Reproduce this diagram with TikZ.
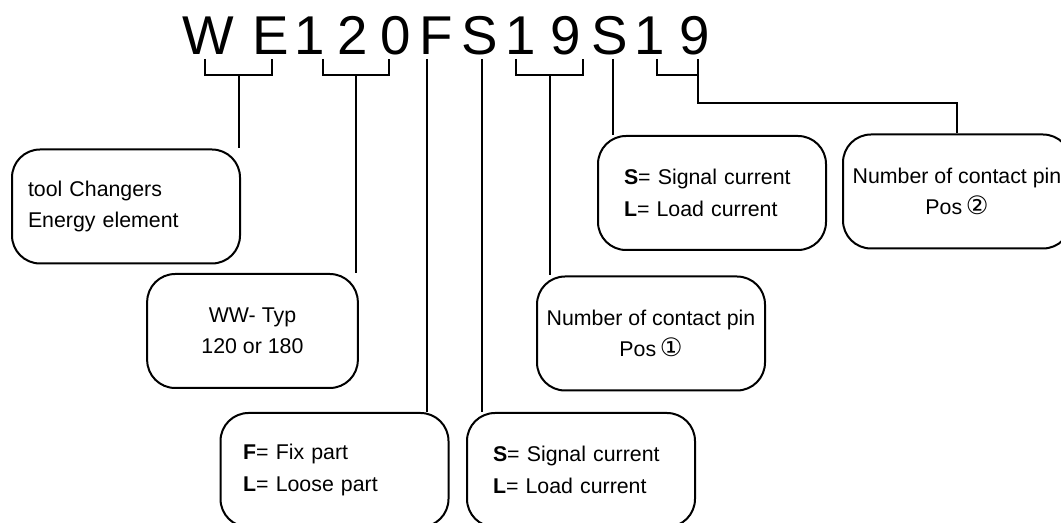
\documentclass[tikz,border=0pt]{standalone}
\usepackage{fontspec}
\setmainfont{Liberation Sans}
\newfontfamily\circfont{DejaVu Sans}
\usetikzlibrary{calc}

\begin{document}
\begin{tikzpicture}[x=0.75pt, y=-0.75pt,
  lead/.style={line width=1.5pt},
  codechar/.style={anchor=base, inner sep=0pt, font=\fontsize{41}{41}\selectfont},
  infobox/.style={draw, line width=1.5pt, rounded corners=21pt,
    minimum width=171pt, minimum height=85.5pt, inner sep=0pt,
    font=\fontsize{16}{23.5}\selectfont},
  leftbox/.style={infobox, align=left, text width=132pt},
  midbox/.style={infobox, align=center}]
  \useasboundingbox (0,0) rectangle (1061,523);
  % The type code, one node per character.
  \foreach \ch/\px [count=\i] in {W/208, E/271, 1/310, 2/353, 0/396, F/436.5,
      S/479.5, 1/521, 9/566, S/609.5, 1/650, 9/695}
    \node[codechar] (c\i) at (\px,55) {\ch};
  % Explanation boxes.
  \node[leftbox, text width=147pt] (tc) at (126,206.5) {tool Changers\\Energy element};
  \node[midbox, minimum width=158pt] (ww) at (252.5,331) {WW- Typ\\120 or 180};
  \node[leftbox, text width=137pt] (fx) at (334.5,470)
    {\textbf{F}= Fix part\\\textbf{L}= Loose part};
  \node[leftbox] (sl1) at (581,470)
    {\textbf{S}= Signal current\\\textbf{L}= Load current};
  \node[midbox] (np1) at (651,333.5)
    {Number of contact pin\\Pos\,{\circfont\fontsize{19}{19}\selectfont ①}};
  \node[leftbox] (sl2) at (712,193)
    {\textbf{S}= Signal current\\\textbf{L}= Load current};
  \node[midbox] (np2) at (957,191.5)
    {Number of contact pin\\Pos\,{\circfont\fontsize{19}{19}\selectfont ②}};
  % Brackets under groups of characters.
  \foreach \n/\l/\r in {1/205/272, 2/323/389, 3/516/583, 4/657/698} {
    \coordinate (kl\n) at (\l,59);
    \coordinate (kr\n) at (\r,59);
    \coordinate (kj\n) at ($(kl\n)!0.5!(kr\n)+(0,16)$);
    \coordinate (kb\n) at ($(kr\n)+(0,16)$);
    \draw[lead] (kl\n) -- ++(0,16) -| (kr\n);
  }
  % Single leads under one character.
  \coordinate (fF) at (427,59);
  \coordinate (fS1) at (482,59);
  \coordinate (fS2) at (613,59);
  % Leads down to the boxes.
  \draw[lead] (kj1) -- (kj1 |- tc.north);
  \draw[lead] (kj2) -- (kj2 |- ww.north);
  \draw[lead] (kj3) -- (kj3 |- np1.north);
  \draw[lead] (kb4) -- ++(0,28) -| (np2.north);
  \draw[lead] (fF) -- (fF |- fx.north);
  \draw[lead] (fS1) -- (fS1 |- sl1.north);
  \draw[lead] (fS2) -- (fS2 |- sl2.north);
\end{tikzpicture}
\end{document}
